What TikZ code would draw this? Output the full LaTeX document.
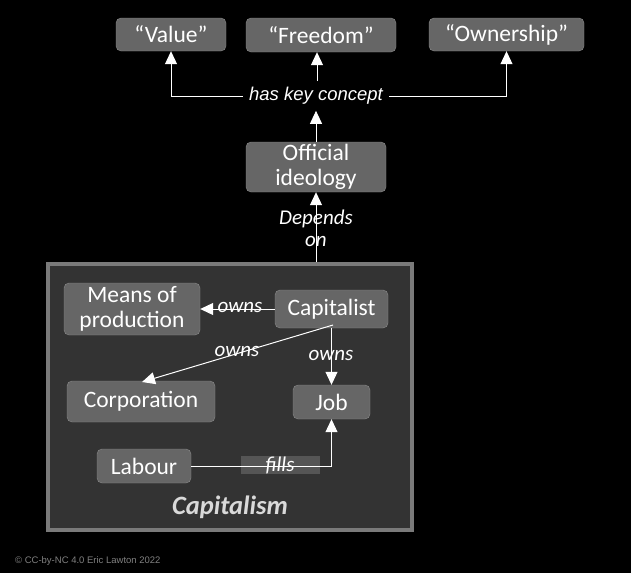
\documentclass[tikz,border=0pt]{standalone}
\usepackage{fontspec}
\setmainfont{Carlito}
\newfontfamily\arialfont{Liberation Sans}
\usetikzlibrary{arrows.meta}
\definecolor{boxfill}{HTML}{666666}
\definecolor{boxedge}{HTML}{8A8A8A}
\definecolor{framefill}{HTML}{333333}
\definecolor{frameedge}{HTML}{7A7A7A}
\definecolor{fillsbox}{HTML}{555555}

\begin{document}
\begin{tikzpicture}[x=1pt,y=-1pt,
	concept/.style={draw=boxedge, fill=boxfill, rounded corners=5pt, text=white,
		font=\fontsize{23.5}{25}\selectfont, align=center, inner sep=1pt},
	link/.style={draw=white, line width=1pt, -{Triangle[width=12pt,length=13pt]}},
	linklabel/.style={text=white, font=\fontsize{21}{22}\selectfont\itshape, align=center, inner sep=1pt}]

	% page
	\fill[black] (0,0) rectangle (631,573);
	\useasboundingbox (0,0) rectangle (631,573);

	% system frame
	\node[draw=frameedge, line width=4pt, fill=framefill, minimum width=364pt, minimum height=266pt] (capitalism) at (230,397) {};
	\node[text=white!85!black, font=\fontsize{26.5}{28}\selectfont\bfseries\itshape] (systemname) at (230,507) {Capitalism};

	% concepts
	\node[concept, minimum width=110pt, minimum height=33pt] (value) at (171,34.5) {“Value”};
	\node[concept, minimum width=150pt, minimum height=34pt] (freedom) at (321,35) {“Freedom”};
	\node[concept, minimum width=155pt, minimum height=33pt] (ownership) at (506.5,34.5) {“Ownership”};
	\node[concept, minimum width=140pt, minimum height=50pt] (ideology) at (316,167) {Official\\ideology};
	\node[concept, minimum width=136pt, minimum height=52pt] (means) at (132,309) {Means of\\production};
	\node[concept, minimum width=113pt, minimum height=38pt] (capitalist) at (331.5,309) {Capitalist};
	\node[concept, minimum width=148pt, minimum height=41pt] (corporation) at (141,401.5) {Corporation};
	\node[concept, minimum width=77pt, minimum height=34pt] (job) at (331.5,402) {Job};
	\node[concept, minimum width=94pt, minimum height=34pt] (labour) at (144,466) {Labour};

	% labels
	\node[text=white, font=\arialfont\fontsize{18.5}{20}\selectfont\itshape, inner sep=6pt] (keyconcept) at (316,96) {has key concept};
	\node[linklabel] (depends) at (316,228) {Depends\\on};
	\node[linklabel] (ownsmeans) at (240,307) {owns};
	\node[linklabel] (ownscorp) at (237,351) {owns};
	\node[linklabel] (ownsjob) at (331,355) {owns};
	\node[fill=fillsbox, minimum width=79pt, minimum height=18pt, inner sep=0pt] (fillsbg) at (280,465) {};

	% connectors
	\draw[link] (keyconcept.west) -| (value);
	\draw[link] (keyconcept.east) -| (ownership);
	\draw[link] (keyconcept.north -| 317,0) -- (317,0 |- freedom.south);
	\draw[link] (ideology) -- (keyconcept);
	\draw[link] (capitalism.north -| ideology) -- (ideology);
	\draw[link] (capitalist) -- (means);
	\draw[link] (333,325) -- (142,382);
	\draw[link] (capitalist) -- (job);
	\draw[link] (labour) -| (job);

	\node[linklabel] (fills) at (fillsbg) {fills};

	% copyright
	\node[anchor=west, text=gray, font=\arialfont\fontsize{9.5}{10}\selectfont, inner sep=0pt] (credit) at (15,561) {© CC-by-NC 4.0 Eric Lawton 2022};
\end{tikzpicture}
\end{document}
